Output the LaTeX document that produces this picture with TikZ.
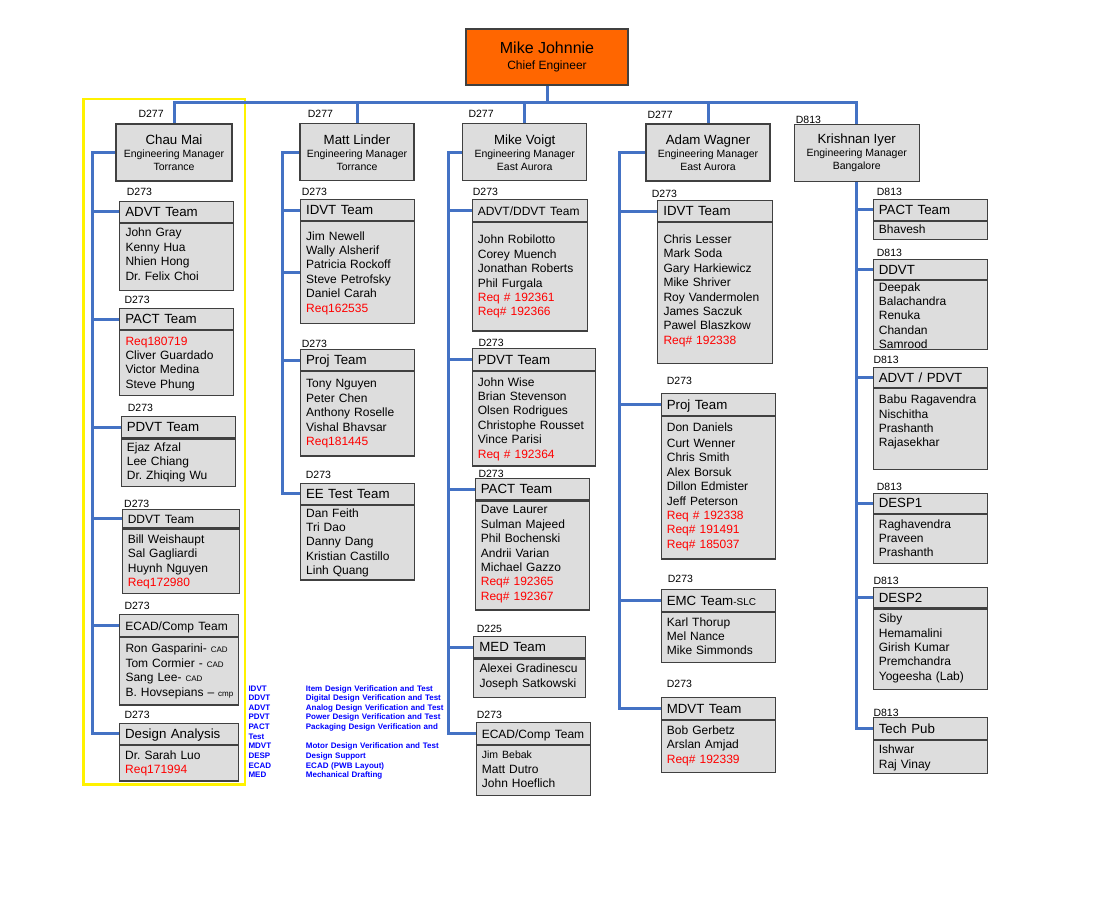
\documentclass[tikz,border=0pt]{standalone}
\usepackage{fontspec}
\setmainfont{Liberation Sans}
\frenchspacing
\usetikzlibrary{positioning,calc}
\definecolor{OrgBlue}{RGB}{68,114,196}
\definecolor{BoxGray}{RGB}{221,221,221}
\definecolor{BoxLine}{RGB}{64,64,64}
\definecolor{ChiefOrange}{RGB}{255,102,0}
\definecolor{ReqRed}{RGB}{255,0,0}
\definecolor{HiYellow}{RGB}{255,242,0}
\definecolor{LegBlue}{RGB}{0,0,255}
\tikzset{
  bus/.style={draw=OrgBlue,line width=3pt},
  hilite/.style={draw=HiYellow,line width=2.8pt},
  mgr/.style={draw=BoxLine,fill=BoxGray,line width=1.1pt,minimum height=57,inner sep=0,align=center,font=\fontsize{10.5}{13}\selectfont},
  chiefbox/.style={draw=BoxLine,fill=ChiefOrange,line width=1.1pt,minimum width=162,minimum height=56,inner sep=0,align=center,font=\fontsize{12}{15.5}\selectfont},
  ttl/.style={draw=BoxLine,fill=BoxGray,line width=1.1pt,inner xsep=5.5pt,inner ysep=0,align=left,text height=11pt,text depth=1.5pt,font=\fontsize{13.3}{15}\selectfont},
  bdy/.style={draw=BoxLine,fill=BoxGray,line width=1.1pt,inner sep=0},
  nms/.style={inner sep=0,text width=150pt,align=left,font=\fontsize{12}{14.4}\selectfont},
  dept/.style={inner sep=0,anchor=base west,font=\fontsize{10.5}{12}\selectfont},
  legend/.style={inner sep=0,anchor=base west,align=left,text=LegBlue,font=\bfseries\fontsize{8}{9.63}\selectfont},
}
\newcommand{\req}[1]{\textcolor{ReqRed}{#1}}
\newcommand{\sml}[1]{{\fontsize{8}{10}\selectfont #1}}
\newcommand{\tsm}[1]{{\fontsize{12}{14}\selectfont #1}}
\newcommand{\mname}[1]{{\fontsize{13.3}{14}\selectfont #1}}
% team = title cell + body cell + names; args: id, x, y, width, title h, body h, first baseline, title, names
\newcommand{\team}[9]{%
  \node[ttl,text width=#4-11,minimum height=#5,anchor=north west] (#1) at (#2,#3) {\mbox{#8}};
  \node[bdy,minimum width=#4,minimum height=#6,anchor=north west] (#1-b) at (#1.south west) {};
  \node[nms,anchor=base west] (#1-n) at ($(#1-b.north west)+(6,#7)$) {#9};}

\begin{document}
\begin{tikzpicture}[x=1pt,y=-1pt]
\useasboundingbox (0,0) rectangle (1097,904);
\draw[hilite] (83.5,99) rectangle (245,784.5);

% chief and managers
\node[chiefbox] (chief) at (547,57) {{\fontsize{16}{18}\selectfont Mike Johnnie}\\Chief Engineer};
\node[mgr,minimum width=116] (chau) at (174,152.5) {\mname{Chau Mai}\\Engineering Manager\\Torrance};
\node[mgr,minimum width=114] (matt) at (357,152.4) {\mname{Matt Linder}\\Engineering Manager\\Torrance};
\node[mgr,minimum width=124] (voigt) at (524.7,152.4) {\mname{Mike Voigt}\\Engineering Manager\\East Aurora};
\node[mgr,minimum width=124] (wagner) at (708,152.5) {\mname{Adam Wagner}\\Engineering Manager\\East Aurora};
\node[mgr,minimum width=125.3] (krish) at (856.7,152.9) {\mname{Krishnan Iyer}\\Engineering Manager\\Bangalore};
\node[dept] (dChau) at (138.3,118) {D277};\node[dept] (dMatt) at (307.7,118) {D277};\node[dept] (dVoigt) at (468.3,118) {D277};
\node[dept] (dWagner) at (647.3,119) {D277};\node[dept] (dKrish) at (795.7,124) {D813};

% Torrance - Chau Mai
\team{advtA}{119.3}{200.7}{114}{21}{67.3}{14}{ADVT Team}{John Gray\\Kenny Hua\\Nhien Hong\\Dr. Felix Choi}
\team{pactA}{119.3}{308}{114}{21}{65}{14.9}{PACT Team}{\req{Req180719}\\Cliver Guardado\\Victor Medina\\Steve Phung}
\team{pdvtA}{120.7}{415.7}{114.3}{21.6}{47.7}{12.7}{PDVT Team}{Ejaz Afzal\\Lee Chiang\\Dr. Zhiqing Wu}
\team{ddvtA}{121.7}{509.3}{117.6}{18}{64.7}{15}{\tsm{DDVT Team}}{Bill Weishaupt\\Sal Gagliardi\\Huynh Nguyen\\\req{Req172980}}
\team{ecadA}{119.3}{614.3}{119}{21.4}{67.6}{16}{\tsm{ECAD/Comp Team}}{Ron Gasparini- \sml{CAD}\\Tom Cormier - \sml{CAD}\\Sang Lee- \sml{CAD}\\B. Hovsepians – \sml{cmp}}
\team{daA}{119}{722.7}{119.3}{21.3}{35.3}{14.3}{Design Analysis}{Dr. Sarah Luo\\\req{Req171994}}
\node[dept] (dAdvtA) at (126.7,195.7) {D273};\node[dept] (dPactA) at (124.3,303) {D273};\node[dept] (dPdvtA) at (127.7,411) {D273};
\node[dept] (dDdvtA) at (124,507) {D273};\node[dept] (dEcadA) at (124.3,609) {D273};\node[dept] (dDaA) at (124.3,718) {D273};

% Torrance - Matt Linder
\team{idvtB}{300}{199}{114}{21}{101.7}{19}{IDVT Team}{Jim Newell\\Wally Alsherif\\Patricia Rockoff\\Steve Petrofsky\\Daniel Carah\\\req{Req162535}}
\team{projB}{300}{349}{114}{21}{84.3}{16.7}{Proj Team}{Tony Nguyen\\Peter Chen\\Anthony Roselle\\Vishal Bhavsar\\\req{Req181445}}
\team{eeB}{300}{482.7}{114}{21.3}{74.3}{12}{EE Test Team}{Dan Feith\\Tri Dao\\Danny Dang\\Kristian Castillo\\Linh Quang}
\node[dept] (dIdvtB) at (301.7,196) {D273};\node[dept] (dProjB) at (301.7,347.5) {D273};\node[dept] (dEeB) at (305.7,478) {D273};

% East Aurora - Mike Voigt
\team{advtC}{471.7}{199.3}{115}{21.7}{108.3}{21.7}{\tsm{ADVT/DDVT Team}}{John Robilotto\\Corey Muench\\Jonathan Roberts\\Phil Furgala\\\req{Req \# 192361}\\\req{Req\# 192366}}
\team{pdvtC}{471.7}{348.3}{123.3}{21.7}{94.3}{15}{PDVT Team}{John Wise\\Brian Stevenson\\Olsen Rodrigues\\Christophe Rousset\\Vince Parisi\\\req{Req \# 192364}}
\team{pactC}{474.7}{477.7}{114.6}{21.6}{109}{13.4}{PACT Team}{Dave Laurer\\Sulman Majeed\\Phil Bochenski\\Andrii Varian\\Michael Gazzo\\\req{Req\# 192365}\\\req{Req\# 192367}}
\team{medC}{473.3}{636}{112}{21.3}{38.4}{14.4}{MED Team}{Alexei Gradinescu\\Joseph Satkowski}
\team{ecadC}{475.7}{721.7}{114.3}{22.3}{50}{13.3}{\tsm{ECAD/Comp Team}}{{\fontsize{10.5}{12}\selectfont Jim Bebak}\\[0.5pt]Matt Dutro\\John Hoeflich}
\node[dept] (dAdvtC) at (472.7,195.5) {D273};\node[dept] (dPdvtC) at (478.3,346.5) {D273};\node[dept] (dPactC) at (478.3,477) {D273};
\node[dept] (dMedC) at (476.7,632) {D225};\node[dept] (dEcadC) at (476.7,718) {D273};

% East Aurora - Adam Wagner
\team{idvtD}{657.3}{200}{114.4}{21}{140.7}{21.3}{IDVT Team}{Chris Lesser\\Mark Soda\\Gary Harkiewicz\\Mike Shriver\\Roy Vandermolen\\James Saczuk\\Pawel Blaszkow\\\req{Req\# 192338}}
\team{projD}{660.7}{393.3}{114.3}{21.7}{142.3}{15}{Proj Team}{Don Daniels\\[2pt]Curt Wenner\\Chris Smith\\Alex Borsuk\\Dillon Edmister\\Jeff Peterson\\\req{Req \# 192338}\\\req{Req\# 191491}\\\req{Req\# 185037}}
\team{emcD}{660.7}{589.3}{114.3}{21.4}{50.3}{14.3}{EMC Team{\fontsize{10}{12}\selectfont -SLC}}{Karl Thorup\\Mel Nance\\Mike Simmonds}
\team{mdvtD}{660.7}{697.3}{114.3}{21.7}{52}{14.3}{MDVT Team}{Bob Gerbetz\\Arslan Amjad\\\req{Req\# 192339}}
\node[dept] (dIdvtD) at (651.7,197) {D273};\node[dept] (dProjD) at (666.7,384) {D273};
\node[dept] (dEmcD) at (667.7,582) {D273};\node[dept] (dMdvtD) at (666.7,687) {D273};

% Bangalore - Krishnan Iyer
\team{pactE}{872.7}{198.9}{114}{20.8}{18.2}{12.3}{PACT Team}{Bhavesh}
\team{ddvtE}{872.7}{258.7}{114}{20.3}{69}{11}{DDVT}{Deepak\\Balachandra\\Renuka\\Chandan\\Samrood}
\team{advtE}{872.7}{366.7}{114.3}{20.3}{80.7}{15.5}{ADVT / PDVT}{Babu Ragavendra\\Nischitha\\Prashanth\\Rajasekhar}
\team{despOneE}{872.7}{492.5}{114.3}{20.3}{49}{14.2}{DESP1}{Raghavendra\\Praveen\\Prashanth}
\team{despTwoE}{872.7}{586.6}{114.3}{20.8}{80.2}{14.1}{DESP2}{Siby\\Hemamalini\\Girish Kumar\\Premchandra\\Yogeesha (Lab)}
\team{tpubE}{872.7}{716.7}{114.3}{22.1}{33.2}{13.7}{Tech Pub}{Ishwar\\Raj Vinay}
\node[dept] (dPactE) at (876.7,195.5) {D813};\node[dept] (dDdvtE) at (876.7,256) {D813};\node[dept] (dAdvtE) at (873.3,363) {D813};
\node[dept] (dDespOneE) at (876.7,490) {D813};\node[dept] (dDespTwoE) at (873.3,584) {D813};\node[dept] (dTpubE) at (873.3,716) {D813};

% legend
\node[legend,text width=50] (legKey) at (248.3,691) {IDVT\\DDVT\\ADVT\\PDVT\\PACT\\Test\\MDVT\\DESP\\ECAD\\MED};
\node[legend,text width=160] (legText) at (305.7,691) {Item Design Verification and Test\\Digital Design Verification and Test\\Analog Design Verification and Test\\Power Design Verification and Test\\Packaging Design Verification and\\\mbox{}\\Motor Design Verification and Test\\Design Support\\ECAD (PWB Layout)\\Mechanical Drafting};

% connectors
\coordinate (busmid) at (547,103);
\draw[bus] (chief) -- (busmid);\draw[bus] (chau.north) |- (busmid) -| (krish.north);
\draw[bus] (matt.north) -- (matt.north |- busmid);\draw[bus] (voigt.north) -- (voigt.north |- busmid);\draw[bus] (wagner.north) -- (wagner.north |- busmid);
\coordinate (spA) at (92,0);\coordinate (spB) at (282.3,0);\coordinate (spC) at (448.3,0);\coordinate (spD) at (619.3,0);
\draw[bus] (chau.west) -| (spA |- daA.west) -- (daA.west);
\draw[bus] (spA |- advtA.west) -- (advtA.west);\draw[bus] (spA |- pactA.west) -- (pactA.west);\draw[bus] (spA |- pdvtA.west) -- (pdvtA.west);
\draw[bus] (spA |- ddvtA.west) -- (ddvtA.west);\draw[bus] (spA |- ecadA.west) -- (ecadA.west);
\draw[bus] (matt.west) -| (spB |- eeB.west) -- (eeB.west);
\draw[bus] (spB |- idvtB.west) -- (idvtB.west);\draw[bus] (spB |- idvtB-b.west) -- (idvtB-b.west);\draw[bus] (spB |- projB.west) -- (projB.west);
\draw[bus] (voigt.west) -| (spC |- ecadC.west) -- (ecadC.west);
\draw[bus] (spC |- advtC.west) -- (advtC.west);\draw[bus] (spC |- pdvtC.west) -- (pdvtC.west);\draw[bus] (spC |- pactC.west) -- (pactC.west);
\draw[bus] (spC |- medC.west) -- (medC.west);
\draw[bus] (wagner.west) -| (spD |- mdvtD.west) -- (mdvtD.west);
\draw[bus] (spD |- idvtD.west) -- (idvtD.west);\draw[bus] (spD |- projD.west) -- (projD.west);\draw[bus] (spD |- emcD.west) -- (emcD.west);
\draw[bus] (krish.south) -- (krish.south |- tpubE.west) -- (tpubE.west);
\draw[bus] (krish.south |- pactE.west) -- (pactE.west);\draw[bus] (krish.south |- ddvtE.west) -- (ddvtE.west);\draw[bus] (krish.south |- advtE.west) -- (advtE.west);
\draw[bus] (krish.south |- despOneE.west) -- (despOneE.west);\draw[bus] (krish.south |- despTwoE.west) -- (despTwoE.west);
\end{tikzpicture}
\end{document}
